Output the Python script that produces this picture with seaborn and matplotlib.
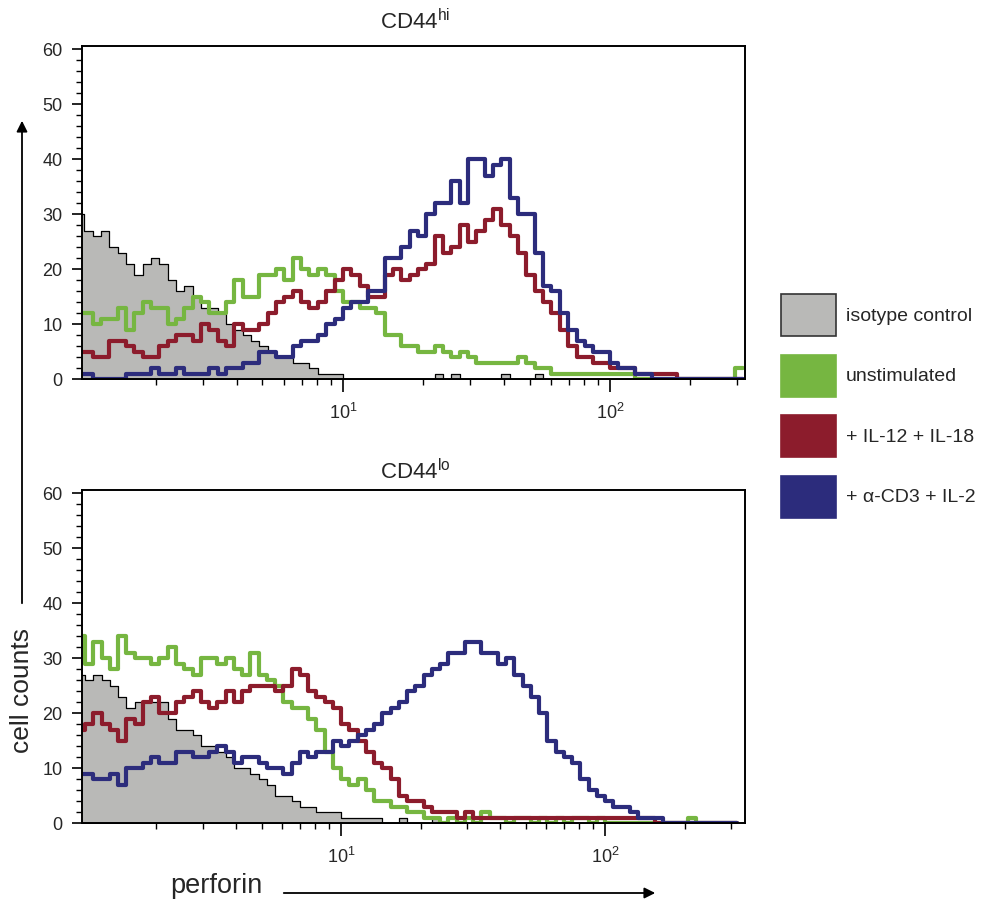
import numpy as np
import matplotlib
matplotlib.use("Agg")
import matplotlib.pyplot as plt
from matplotlib.patches import Patch, FancyArrowPatch
from matplotlib.ticker import MultipleLocator, LogLocator, NullFormatter
import seaborn as sns

# histogram channels: 32 per decade, log10 range 0 .. 2.5
N_BINS = 80
LOG_RANGE = (0.0, 2.5)

series_labels = ["isotype control", "unstimulated", "+ IL-12 + IL-18", "+ \u03b1-CD3 + IL-2"]
series_colors = ["#b9b9b7", "#76b641", "#8c1c2c", "#2c2c7c"]

# CD44 hi panel
iso_hi = [30, 27, 26, 27, 24, 23, 21, 19, 21, 22, 21, 18, 16, 17, 15, 13,
          13, 12, 10, 9, 8, 7, 6, 5, 4, 4, 3, 3, 2, 1, 1, 1,
          0, 0, 0, 0, 0, 0, 0, 0, 0, 0, 0, 1, 0, 1, 0, 0,
          0, 0, 0, 1, 0, 0, 0, 1, 0, 0, 0, 0, 0, 0, 0, 0,
          0, 0, 0, 0, 0, 0, 0, 0, 0, 0, 0, 0, 0, 0, 0, 0]
unstim_hi = [12, 12, 10, 11, 11, 13, 9, 12, 14, 13, 13, 10, 11, 13, 15, 14,
             12, 12, 14, 18, 15, 15, 19, 19, 20, 18, 22, 20, 19, 20, 19, 16,
             14, 14, 13, 13, 12, 8, 8, 6, 6, 5, 5, 6, 5, 4, 5, 4,
             3, 3, 3, 3, 3, 4, 3, 2, 2, 1, 1, 1, 1, 1, 1, 1,
             1, 1, 1, 0, 0, 0, 0, 0, 0, 0, 0, 0, 0, 0, 0, 2]
il12_hi = [5, 5, 4, 4, 7, 7, 6, 5, 4, 4, 6, 7, 8, 8, 7, 10,
           9, 7, 6, 10, 9, 9, 10, 12, 14, 15, 16, 14, 13, 14, 16, 18,
           20, 19, 17, 15, 15, 19, 20, 18, 19, 20, 21, 26, 23, 24, 28, 25,
           27, 29, 31, 28, 26, 23, 19, 16, 14, 12, 9, 6, 4, 4, 3, 3,
           2, 2, 2, 1, 1, 1, 1, 1, 0, 0, 0, 0, 0, 0, 0, 0]
acd3_hi = [1, 1, 0, 0, 0, 0, 1, 1, 1, 2, 1, 1, 2, 1, 1, 1,
           2, 1, 2, 2, 3, 3, 5, 5, 4, 4, 6, 7, 7, 8, 10, 11,
           13, 14, 14, 16, 16, 22, 22, 24, 27, 26, 30, 32, 32, 36, 32, 40,
           40, 37, 39, 40, 33, 30, 30, 23, 17, 16, 12, 9, 7, 6, 5, 5,
           3, 2, 2, 1, 1, 0, 0, 0, 0, 0, 0, 0, 0, 0, 0, 0]

# CD44 lo panel
iso_lo = [27, 26, 27, 26, 25, 23, 21, 22, 22, 22, 22, 19, 17, 17, 16, 14,
          14, 13, 12, 10, 10, 9, 8, 7, 5, 5, 4, 3, 3, 2, 2, 2,
          1, 1, 1, 1, 1, 0, 0, 1, 0, 0, 0, 1, 0, 0, 0, 0,
          0, 0, 0, 0, 0, 0, 0, 0, 0, 0, 0, 0, 0, 0, 0, 0,
          0, 0, 0, 0, 0, 0, 0, 0, 0, 0, 0, 0, 0, 0, 0, 0]
unstim_lo = [34, 29, 33, 30, 28, 34, 31, 30, 30, 29, 30, 32, 29, 28, 27, 30,
             30, 29, 30, 28, 27, 31, 27, 26, 25, 22, 21, 21, 19, 17, 13, 10,
             8, 7, 8, 6, 4, 4, 3, 3, 2, 2, 1, 1, 0, 1, 0, 1,
             0, 2, 1, 1, 0, 1, 1, 0, 1, 0, 1, 0, 1, 1, 0, 1,
             0, 0, 0, 0, 0, 0, 0, 0, 0, 0, 1, 0, 0, 0, 0, 0]
il12_lo = [17, 18, 20, 18, 17, 15, 19, 18, 22, 23, 20, 20, 22, 23, 24, 22,
           21, 22, 24, 22, 24, 25, 25, 25, 24, 25, 28, 27, 24, 23, 22, 21,
           18, 17, 15, 13, 11, 10, 8, 5, 4, 4, 3, 2, 2, 2, 1, 2,
           1, 1, 1, 1, 1, 1, 1, 1, 1, 1, 1, 1, 1, 1, 1, 1,
           1, 1, 1, 1, 1, 1, 0, 0, 0, 0, 0, 0, 0, 0, 0, 0]
acd3_lo = [9, 9, 8, 8, 9, 7, 10, 10, 11, 12, 11, 11, 13, 13, 12, 12,
           13, 14, 13, 11, 12, 12, 11, 10, 10, 9, 11, 13, 12, 13, 13, 15,
           14, 15, 16, 17, 18, 20, 21, 22, 24, 25, 27, 28, 29, 31, 31, 33,
           33, 31, 31, 29, 30, 27, 25, 23, 20, 15, 13, 12, 11, 8, 6, 5,
           4, 3, 3, 2, 1, 1, 1, 0, 0, 0, 0, 0, 0, 0, 0, 0]

panels = [
    ("CD44$^{\\mathrm{hi}}$", [iso_hi, unstim_hi, il12_hi, acd3_hi]),
    ("CD44$^{\\mathrm{lo}}$", [iso_lo, unstim_lo, il12_lo, acd3_lo]),
]

sns.set_style("ticks")
plt.rcParams["font.family"] = ["Liberation Sans", "DejaVu Sans"]
plt.rcParams["mathtext.fontset"] = "custom"
plt.rcParams["mathtext.rm"] = "Liberation Sans"
plt.rcParams["mathtext.it"] = "Liberation Sans:italic"
plt.rcParams["mathtext.bf"] = "Liberation Sans:bold"

W, H = 983, 905
fig = plt.figure(figsize=(W / 100, H / 100), dpi=100)

channels = 10 ** ((np.arange(N_BINS) + 0.5) / 32)

# pixel boxes of the two panels: left, top, right, bottom
boxes = [(82, 46, 745, 379), (82, 490, 745, 823)]
xlims = [(10 ** 0.023, 10 ** 2.506), (10 ** 0.019, 10 ** 2.53)]
title_y = [22, 472]

for (title, series), (l, t, r, b), xl, ty in zip(panels, boxes, xlims, title_y):
    ax = fig.add_axes([l / W, 1 - b / H, (r - l) / W, (b - t) / H])
    for i, (vals, color) in enumerate(zip(series, series_colors)):
        if i == 0:
            sns.histplot(x=channels, weights=vals, bins=N_BINS, binrange=LOG_RANGE,
                         log_scale=True, element="step", fill=True, color=color,
                         alpha=1, edgecolor="black", linewidth=0.9, ax=ax)
        else:
            sns.histplot(x=channels, weights=vals, bins=N_BINS, binrange=LOG_RANGE,
                         log_scale=True, element="step", fill=False, color=color,
                         linewidth=3.0, ax=ax)
    ax.set_xlim(*xl)
    ax.set_ylim(0, 60.55)
    ax.set_xlabel("")
    ax.set_ylabel("")
    ax.set_yticks(range(0, 61, 10))
    ax.yaxis.set_minor_locator(MultipleLocator(2))
    ax.xaxis.set_major_locator(LogLocator(base=10))
    ax.xaxis.set_minor_locator(LogLocator(base=10, subs=np.arange(2, 10)))
    ax.xaxis.set_minor_formatter(NullFormatter())
    for s in ax.spines.values():
        s.set_visible(True)
        s.set_linewidth(1.4)
        s.set_color("black")
    ax.tick_params(axis="both", which="major", direction="out", length=7, width=1.2,
                   labelsize=13, color="black")
    ax.tick_params(axis="both", which="minor", direction="out", length=4, width=1.0,
                   color="black")
    ax.tick_params(axis="y", which="major", pad=7)
    ax.tick_params(axis="x", which="major", pad=8, length=9)
    ax.set_title("")
    fig.text(415 / W, 1 - ty / H, title, ha="center", va="center", fontsize=16)

# legend
handles = [Patch(facecolor=c, edgecolor=("#333333" if i == 0 else c), linewidth=1.2)
           for i, c in enumerate(series_colors)]
fig.legend(handles, series_labels, loc="upper left", bbox_to_anchor=(781 / W, 1 - 294 / H),
           frameon=False, fontsize=14, handlelength=2.85, handleheight=2.95,
           labelspacing=0.95, handletextpad=0.5, borderpad=0, borderaxespad=0)

# axis captions with arrows
fig.add_artist(FancyArrowPatch((22 / W, 1 - 606 / H), (22 / W, 1 - 118 / H),
                               transform=fig.transFigure, arrowstyle="-|>",
                               mutation_scale=16, lw=1.3, color="black"))
fig.text(22 / W, 1 - 690 / H, "cell counts", rotation=90, ha="center", va="center",
         fontsize=19)
fig.add_artist(FancyArrowPatch((281 / W, 1 - 893 / H), (658 / W, 1 - 893 / H),
                               transform=fig.transFigure, arrowstyle="-|>",
                               mutation_scale=16, lw=1.3, color="black"))
fig.text(216 / W, 1 - 886 / H, "perforin", ha="center", va="center", fontsize=19.5)

fig.savefig("out.png", dpi=100)
